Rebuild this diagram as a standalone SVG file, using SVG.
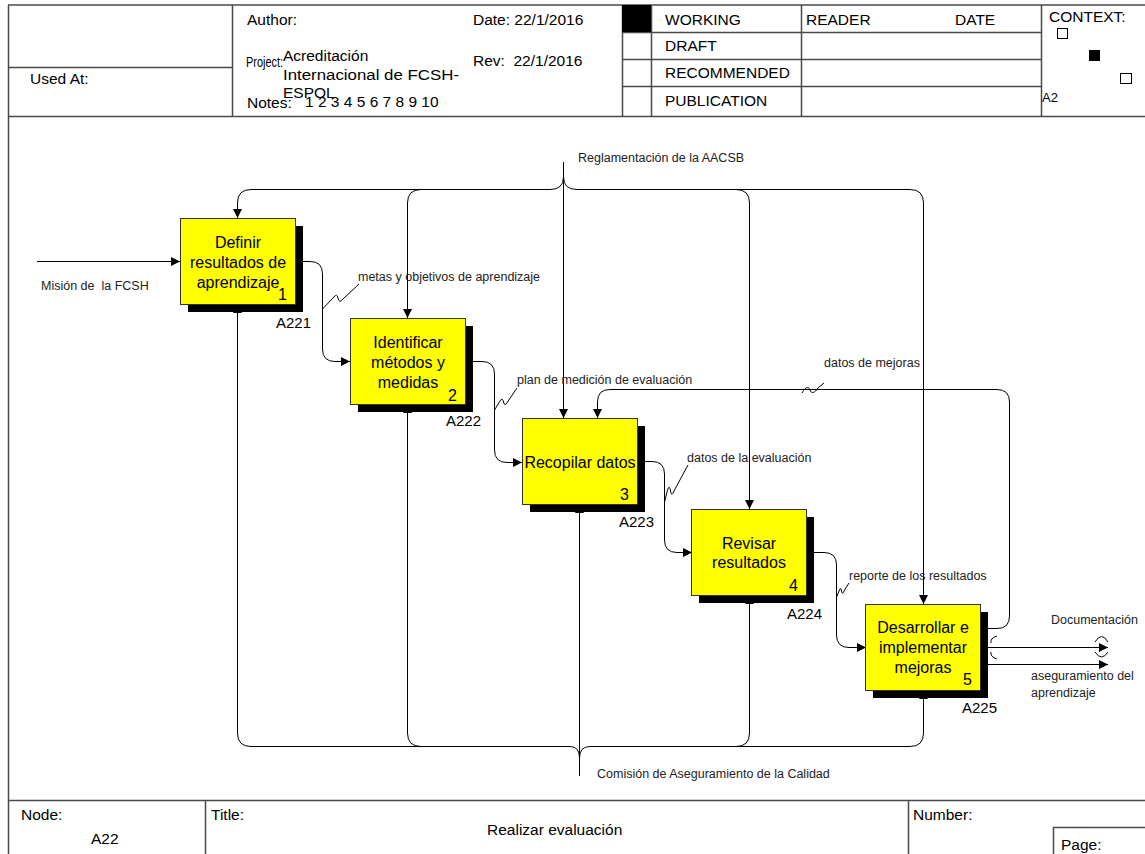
<svg xmlns="http://www.w3.org/2000/svg" width="1145" height="854" viewBox="0 0 1145 854">
<defs>
<marker id="ah" viewBox="0 0 10 10" refX="10" refY="5" markerWidth="9" markerHeight="9" markerUnits="userSpaceOnUse" orient="auto"><path d="M0,0 L10,5 L0,10 z" fill="#000"/></marker>
<style>
text{font-family:"Liberation Sans",Arial,Helvetica,sans-serif;fill:#000}
.frame{fill:none;stroke:#4a4a4a;stroke-width:1.5}
.hd{font-size:15.5px}
.ft{font-size:15.5px}
.lbl{font-size:12.5px;fill:#222}
.conn{fill:none;stroke:#000;stroke-width:1}
.arr{marker-end:url(#ah)}
.box{fill:#ffff00;stroke:#333;stroke-width:1}
.shadow{fill:#000}
.bt{font-size:16px;text-anchor:middle}
.num{font-size:16px;text-anchor:end}
.nid{font-size:15px}
</style>
</defs>
<rect x="0" y="0" width="1145" height="854" fill="#fff"/>

<g id="header">
<path class="frame" d="M8,5 H1145 M8,116.5 H1145 M8.5,5 V854 M232.5,5 V116 M8,67.5 H232 M622.5,5 V116 M651.5,5 V116 M801.5,5 V116 M1041.5,5 V116 M622,32.5 H1041 M622,59.5 H1041 M622,86.5 H1041"/>
<rect x="622" y="5" width="29" height="27" fill="#000"/>
<text class="hd" x="30" y="84">Used At:</text>
<text class="hd" x="247" y="24.5">Author:</text>
<text class="hd" x="246" y="67" textLength="37" lengthAdjust="spacingAndGlyphs">Project:</text>
<text class="hd" x="283" y="61">Acreditación</text>
<text class="hd" x="283" y="79.5" textLength="176" lengthAdjust="spacingAndGlyphs">Internacional de FCSH-</text>
<text class="hd" x="283" y="98">ESPOL</text>
<text class="hd" x="247" y="108">Notes:</text>
<text class="hd" x="305" y="107">1 2 3 4 5 6 7 8 9 10</text>
<text class="hd" x="473" y="24.5">Date: 22/1/2016</text>
<text class="hd" x="473" y="66" xml:space="preserve">Rev:  22/1/2016</text>
<text class="hd" x="665" y="24.5">WORKING</text>
<text class="hd" x="665" y="50.5">DRAFT</text>
<text class="hd" x="665" y="77.5">RECOMMENDED</text>
<text class="hd" x="665" y="105.5">PUBLICATION</text>
<text class="hd" x="806" y="24.5">READER</text>
<text class="hd" x="955" y="24.5">DATE</text>
<text class="hd" x="1049" y="22">CONTEXT:</text>
<rect x="1057.5" y="28.5" width="10" height="10" fill="#fff" stroke="#000" stroke-width="1"/>
<rect x="1089" y="50" width="11" height="11" fill="#000"/>
<rect x="1120.5" y="73.5" width="11" height="10" fill="#fff" stroke="#000" stroke-width="1"/>
<text x="1042" y="102" style="font-size:13px">A2</text>
</g>

<g id="footer">
<path class="frame" d="M8,800.5 H1145 M205.5,800 V854 M908.5,800 V854 M1053.5,854 V827.5 H1145"/>
<text class="ft" x="21" y="819.5">Node:</text>
<text class="ft" x="91" y="843.5">A22</text>
<text class="ft" x="211" y="819.5">Title:</text>
<text class="ft" x="487" y="834.5">Realizar evaluación</text>
<text class="ft" x="913" y="819.5">Number:</text>
<text class="ft" x="1061" y="850">Page:</text>
</g>

<g id="connectors">
<!-- input -->
<path class="conn arr" d="M37,261.5 H180"/>
<text class="lbl" x="41" y="289.5" xml:space="preserve">Misión de  la FCSH</text>
<!-- controls -->
<path class="conn" d="M550,189.5 Q563.5,189.5 563.5,177 Q563.5,189.5 577,189.5 H910"/>
<path class="conn arr" d="M550,189.5 H251 Q237.5,189.5 237.5,203 V218"/>
<path class="conn arr" d="M421,189.5 Q407.5,189.5 407.5,203 V318"/>
<path class="conn arr" d="M563.5,162 V418"/>
<path class="conn arr" d="M736,189.5 Q749.5,189.5 749.5,203 V509"/>
<path class="conn arr" d="M910,189.5 Q923.5,189.5 923.5,203 V604"/>
<text class="lbl" x="578" y="162">Reglamentación de la AACSB</text>
<!-- mechanisms -->
<path class="conn" d="M250,746.5 H570 Q579.5,746.5 579.5,758 Q579.5,746.5 590,746.5 H910"/>
<path class="conn arr" d="M251,746.5 Q237.5,746.5 237.5,733 V304"/>
<path class="conn arr" d="M421,746.5 Q407.5,746.5 407.5,733 V404"/>
<path class="conn arr" d="M579.5,776 V504"/>
<path class="conn arr" d="M736,746.5 Q749.5,746.5 749.5,733 V595"/>
<path class="conn arr" d="M910,746.5 Q923.5,746.5 923.5,733 V690"/>
<text class="lbl" x="597" y="777.5">Comisión de Aseguramiento de la Calidad</text>
<!-- flows -->
<path class="conn arr" d="M296,261.5 H310 Q322.5,261.5 322.5,274 V349 Q322.5,361.5 335,361.5 H350"/>
<path class="conn" d="M322.5,309 L334,297 Q337,293 338,298 Q339,304 343,299 L359,284"/>
<text class="lbl" x="358" y="280.5">metas y objetivos de aprendizaje</text>
<path class="conn arr" d="M466,361.5 H482 Q494.5,361.5 494.5,374 V450 Q494.5,462.5 507,462.5 H522"/>
<path class="conn" d="M494.5,410 L500,401 Q502.5,397 503.5,402 Q504.5,407 507.5,402 L517,388"/>
<text class="lbl" x="517" y="383.5">plan de medición de evaluación</text>
<path class="conn arr" d="M638,461.5 H652 Q664.5,461.5 664.5,474 V540 Q664.5,552.5 677,552.5 H692"/>
<path class="conn" d="M664.5,502 L667.5,490 Q669.5,484 670.5,491 Q671.5,498 674.5,490 L688,465"/>
<text class="lbl" x="687" y="461.5">datos de la evaluación</text>
<path class="conn arr" d="M807,552.5 H824 Q836.5,552.5 836.5,565 V635 Q836.5,647.5 849,647.5 H866"/>
<path class="conn" d="M836.5,597 L839.5,590 Q841,586.5 841.5,591 Q842.5,596 844.5,590 L849,583"/>
<text class="lbl" x="849" y="579.5">reporte de los resultados</text>
<!-- feedback -->
<path class="conn arr" d="M981,628.5 H997 Q1009.5,628.5 1009.5,616 V402 Q1009.5,389.5 997,389.5 H610 Q597.5,389.5 597.5,402 V418"/>
<path class="conn" d="M802,393 C805,387 809,386 810,390 C811,394 815,393 818,388 L824,383"/>
<text class="lbl" x="824" y="366.5">datos de mejoras</text>
<!-- outputs -->
<path class="conn arr" d="M981,647.5 H1108"/>
<path class="conn" d="M997,636 Q990,638 991,643 M991,652 Q990,657 997,659 M1095,642 Q1101.5,631 1108,642 M1095,652 Q1101.5,662 1108,652"/>
<text class="lbl" x="1051" y="623.5">Documentación</text>
<path class="conn arr" d="M981,664.5 H1108"/>
<text class="lbl" x="1031" y="679.5">aseguramiento del</text>
<text class="lbl" x="1031" y="696.5">aprendizaje</text>
</g>

<g id="node-A221">
<rect class="shadow" x="188" y="226" width="115" height="86"/>
<rect class="box" x="180.5" y="218.5" width="115" height="86"/>
<text class="bt" x="238" y="248">Definir</text>
<text class="bt" x="238" y="268">resultados de</text>
<text class="bt" x="238" y="288">aprendizaje</text>
<text class="num" x="287" y="300">1</text>
<text class="nid" x="276" y="327.5">A221</text>
</g>

<g id="node-A222">
<rect class="shadow" x="358" y="326" width="115" height="86"/>
<rect class="box" x="350.5" y="318.5" width="115" height="86"/>
<text class="bt" x="408" y="347.5">Identificar</text>
<text class="bt" x="408" y="367.5">métodos y</text>
<text class="bt" x="408" y="387.5">medidas</text>
<text class="num" x="457" y="400.5">2</text>
<text class="nid" x="446" y="426">A222</text>
</g>

<g id="node-A223">
<rect class="shadow" x="530" y="426" width="115" height="86"/>
<rect class="box" x="522.5" y="418.5" width="115" height="86"/>
<text class="bt" x="580" y="467.5">Recopilar datos</text>
<text class="num" x="629" y="500">3</text>
<text class="nid" x="619" y="526.5">A223</text>
</g>

<g id="node-A224">
<rect class="shadow" x="699" y="517" width="115" height="86"/>
<rect class="box" x="691.5" y="509.5" width="115" height="86"/>
<text class="bt" x="749" y="548.5">Revisar</text>
<text class="bt" x="749" y="568">resultados</text>
<text class="num" x="798" y="591">4</text>
<text class="nid" x="787" y="618.5">A224</text>
</g>

<g id="node-A225">
<rect class="shadow" x="873" y="612" width="115" height="86"/>
<rect class="box" x="865.5" y="604.5" width="115" height="86"/>
<text class="bt" x="923" y="633">Desarrollar e</text>
<text class="bt" x="923" y="653">implementar</text>
<text class="bt" x="923" y="673">mejoras</text>
<text class="num" x="972" y="685">5</text>
<text class="nid" x="962" y="712.5">A225</text>
</g>
</svg>
